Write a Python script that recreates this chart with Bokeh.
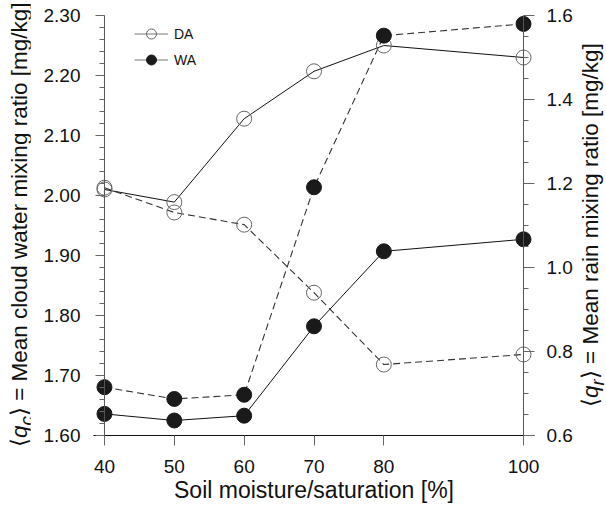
from bokeh.plotting import figure
from bokeh.layouts import row
from bokeh.models import (Range1d, LinearAxis, FixedTicker, Span, Legend, LegendItem,
                          PrintfTickFormatter, Div)
from bokeh.embed import file_html
from bokeh.resources import INLINE

# ---------------- data ----------------
moisture = [40, 50, 60, 70, 80, 100]
qc_DA = [2.010, 1.989, 2.128, 2.207, 2.250, 2.230]
qc_WA = [1.636, 1.625, 1.633, 1.782, 1.907, 1.927]
qr_DA = [1.190, 1.131, 1.102, 0.940, 0.769, 0.793]
qr_WA = [0.715, 0.687, 0.697, 1.191, 1.552, 1.580]

x_ticks = [40, 50, 60, 70, 80, 100]
qc_ticks = [1.6, 1.7, 1.8, 1.9, 2.0, 2.1, 2.2, 2.3]
qc_minor = [round(1.6 + 0.02 * i, 2) for i in range(36)]
qr_ticks = [0.6, 0.8, 1.0, 1.2, 1.4, 1.6]
qr_minor = [round(0.6 + 0.05 * i, 2) for i in range(21)]

x_title = "Soil moisture/saturation [%]"
left_title = "&#10216;<i>q<sub>c</sub></i>&#10217; = Mean cloud water mixing ratio [mg/kg]"
right_title = "&#10216;<i>q<sub>r</sub></i>&#10217; = Mean rain mixing ratio [mg/kg]"

# ---------------- layout ----------------
FONT = "Liberation Sans"
LW, PW, RW, H = 30, 545, 31, 508          # left div, plot, right div widths; height
FL, FR, FT, FB = 93, 535, 15, 435          # frame edges in page px
X0, X1 = x_ticks[0] - 11 / 7, x_ticks[-1] + 11 / 7

p = figure(width=PW, height=H, x_range=Range1d(X0, X1), y_range=Range1d(1.6, 2.3),
           output_backend="svg", toolbar_location=None, margin=0,
           min_border_left=FL - LW, min_border_right=LW + PW - FR,
           min_border_top=FT, min_border_bottom=H - FB)
p.outline_line_color = None
p.xgrid.visible = False
p.ygrid.visible = False
p.background_fill_color = "white"
p.border_fill_color = "white"
p.extra_y_ranges = {"right": Range1d(0.6, 1.6), "hidden": Range1d(10, 11)}

# bottom axis
xa = p.xaxis[0]
xa.ticker = FixedTicker(ticks=x_ticks, minor_ticks=[])
xa.axis_line_color = "#111111"
xa.major_tick_line_color = "#666666"
xa.major_tick_in = 0
xa.major_tick_out = 10
xa.minor_tick_line_color = None
xa.major_label_text_font = FONT
xa.major_label_text_font_size = "19px"
xa.major_label_text_color = "#111111"
xa.major_label_standoff = 14
xa.axis_label = x_title
xa.axis_label_text_font = FONT
xa.axis_label_text_font_size = "23px"
xa.axis_label_text_font_style = "normal"
xa.axis_label_text_color = "#111111"
xa.axis_label_standoff = 1

# left axis
ya = p.yaxis[0]
ya.ticker = FixedTicker(ticks=qc_ticks, minor_ticks=qc_minor)
ya.formatter = PrintfTickFormatter(format="%.2f")
ya.axis_line_color = None
ya.major_tick_line_color = "#666666"
ya.minor_tick_line_color = "#666666"
ya.major_tick_in = 11
ya.major_tick_out = -2
ya.minor_tick_in = 11
ya.minor_tick_out = -6
ya.major_label_text_font = FONT
ya.major_label_text_font_size = "19px"
ya.major_label_text_color = "#111111"
ya.major_label_standoff = 15

# right axis
ra = LinearAxis(y_range_name="right")
ra.ticker = FixedTicker(ticks=qr_ticks, minor_ticks=qr_minor)
ra.formatter = PrintfTickFormatter(format="%.1f")
ra.axis_line_color = None
ra.major_tick_line_color = "#666666"
ra.minor_tick_line_color = "#666666"
ra.major_tick_in = 11
ra.major_tick_out = 0
ra.minor_tick_in = 11
ra.minor_tick_out = -6
ra.major_label_text_font = FONT
ra.major_label_text_font_size = "19px"
ra.major_label_text_color = "#111111"
ra.major_label_standoff = 12
p.add_layout(ra, "right")

# vertical axis lines at 40 and 100
p.add_layout(Span(location=x_ticks[0], dimension="height", line_color="#555555", line_width=1))
p.add_layout(Span(location=x_ticks[-1], dimension="height", line_color="#555555", line_width=1))

# ---------------- series ----------------
p.line(moisture, qc_DA, line_color="#111111", line_width=1)
p.line(moisture, qc_WA, line_color="#111111", line_width=1)
p.line(moisture, qr_DA, y_range_name="right", line_color="#333333", line_width=1.1, line_dash="7 4")
p.line(moisture, qr_WA, y_range_name="right", line_color="#333333", line_width=1.1, line_dash="7 4")

p.scatter(moisture, qc_DA, marker="circle", size=15, fill_alpha=0, line_color="#666666", line_width=1)
p.scatter(moisture, qr_DA, y_range_name="right", marker="circle", size=15, fill_alpha=0,
          line_color="#666666", line_width=1)
p.scatter(moisture, qc_WA, marker="circle", size=15, fill_color="#1a1a1a", line_color="#1a1a1a")
p.scatter(moisture, qr_WA, y_range_name="right", marker="circle", size=15, fill_color="#1a1a1a",
          line_color="#1a1a1a")

# ---------------- legend (proxies on an off-screen range) ----------------
leg_line = p.line(moisture, qc_DA, y_range_name="hidden", line_color="#777777", line_width=1)
leg_da = p.scatter(moisture, qc_DA, y_range_name="hidden", marker="circle", size=15,
                   fill_alpha=0, line_color="#666666")
leg_wa = p.scatter(moisture, qc_WA, y_range_name="hidden", marker="circle", size=15,
                   fill_color="#1a1a1a", line_color="#1a1a1a")
legend = Legend(items=[LegendItem(label="DA", renderers=[leg_line, leg_da]),
                       LegendItem(label="WA", renderers=[leg_line, leg_wa])],
                location=(41, 363), glyph_width=34, glyph_height=25, label_height=25,
                spacing=1, padding=0, margin=0, label_standoff=6,
                label_text_font=FONT, label_text_font_size="14px",
                label_text_color="#111111",
                border_line_color=None, background_fill_alpha=0)
p.add_layout(legend)

# ---------------- rotated y titles as HTML ----------------
def vtitle(html, left, bottom):
    style = ("display:block; white-space:nowrap; line-height:1; "
             "font-family:'Liberation Sans'; font-size:22.5px; color:#111111; "
             "transform-origin:0 0; "
             f"transform:translate({left}px, {bottom}px) rotate(-90deg);")
    return f'<div style="{style}">{html}</div>'


left_div = Div(text=vtitle(left_title, 9, 447), width=LW, height=H, margin=0,
               styles={"overflow": "visible"})
right_div = Div(text=vtitle(right_title, 5, 407), width=RW, height=H, margin=0,
                styles={"overflow": "visible"})

layout = row(left_div, p, right_div, spacing=0)
open("out.html", "w").write(file_html(layout, INLINE))
